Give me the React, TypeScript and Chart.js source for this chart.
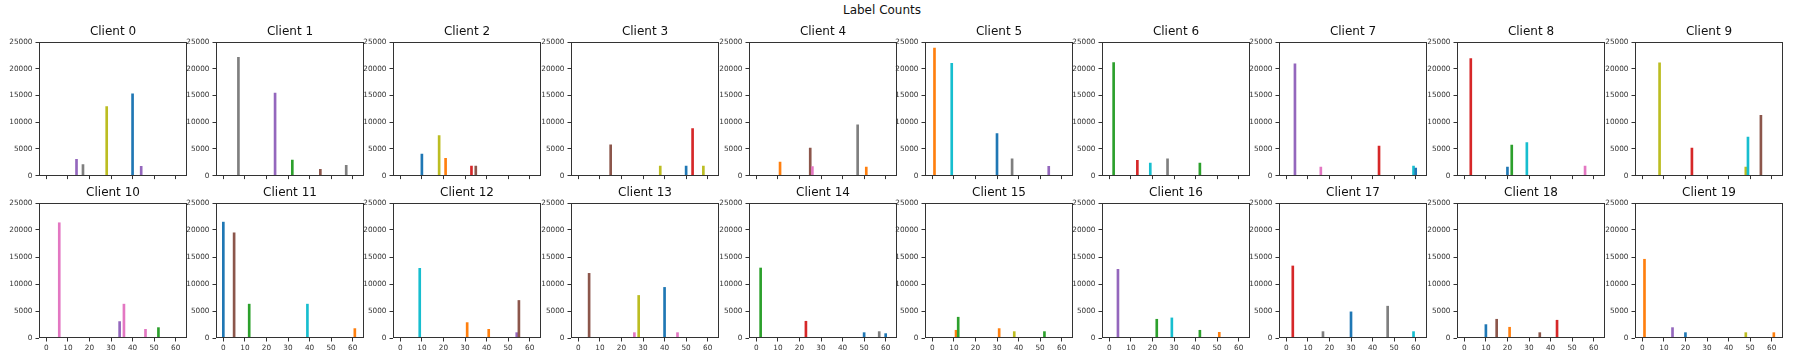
import React, { useEffect, useRef } from "react";
import { Chart, registerables } from "chart.js";

Chart.register(...registerables);

// ---------- data ----------
const clientTitles: string[] = [
  "Client 0", "Client 1", "Client 2", "Client 3", "Client 4",
  "Client 5", "Client 6", "Client 7", "Client 8", "Client 9",
  "Client 10", "Client 11", "Client 12", "Client 13", "Client 14",
  "Client 15", "Client 16", "Client 17", "Client 18", "Client 19",
];

// label ids present for each client
const clientLabelIds: number[][] = [
  [14, 17, 28, 40, 44],
  [7, 24, 32, 45, 57],
  [10, 18, 21, 33, 35],
  [15, 38, 50, 53, 58],
  [11, 25, 26, 47, 51],
  [1, 9, 30, 37, 54],
  [2, 13, 19, 27, 42],
  [4, 16, 43, 59, 60],
  [3, 20, 22, 29, 56],
  [8, 23, 48, 49, 55],
  [6, 34, 36, 46, 52],
  [0, 5, 12, 39, 61],
  [9, 31, 41, 54, 55],
  [5, 26, 28, 40, 46],
  [2, 23, 50, 57, 60],
  [11, 12, 31, 38, 52],
  [4, 22, 29, 42, 51],
  [3, 17, 30, 47, 59],
  [10, 15, 21, 35, 43],
  [1, 14, 20, 48, 61],
];

// counts for those labels
const clientLabelCounts: number[][] = [
  [3040, 2050, 12900, 15320, 1740],
  [22150, 15450, 2920, 1180, 1920],
  [4030, 7500, 3230, 1800, 1800],
  [5770, 1800, 1800, 8810, 1800],
  [2540, 5150, 1670, 9490, 1610],
  [23880, 21030, 7880, 3160, 1740],
  [21150, 2850, 2360, 3160, 2360],
  [20900, 1610, 5520, 1800, 1430],
  [21900, 1610, 5710, 6200, 1800],
  [21090, 5150, 1610, 7200, 11290],
  [21340, 3040, 6270, 1610, 1920],
  [21460, 19480, 6270, 6270, 1740],
  [12900, 2850, 1610, 990, 6950],
  [11970, 990, 7880, 9370, 990],
  [12960, 3100, 990, 1180, 810],
  [1430, 3850, 1740, 1180, 1180],
  [12720, 3470, 3720, 1430, 1050],
  [13340, 1180, 4840, 5890, 1180],
  [2480, 3470, 1990, 990, 3290],
  [14580, 1920, 990, 990, 990],
];

const tab10: string[] = [
  "#1f77b4", "#ff7f0e", "#2ca02c", "#d62728", "#9467bd",
  "#8c564b", "#e377c2", "#7f7f7f", "#bcbd22", "#17becf",
];

const suptitle = "Label Counts";
const xMin = -3.4;
const xMax = 65.25;
const xStep = 10;
const yMin = 0;
const yMax = 25000;
const yStep = 5000;

// ---------- layout ----------
const FONT = "'DejaVu Sans', 'Noto Sans', sans-serif";
const panelLefts = [39, 216, 393, 571, 749, 925, 1102, 1279, 1457, 1635];
const rowTops = [42, 203];
const PLOT_W = 148;
const PLOT_H = 135;
const Y_W = 40;
const TITLE_H = 22;
const RIGHT_PAD = 4;

const framePlugin = {
  id: "frame",
  afterDraw(chart: any) {
    const { ctx, chartArea } = chart;
    const l = Math.round(chartArea.left) + 0.5;
    const t = Math.round(chartArea.top) + 0.5;
    const r = Math.round(chartArea.right) - 0.5;
    const b = Math.round(chartArea.bottom) - 0.5;
    ctx.save();
    ctx.strokeStyle = "#333";
    ctx.lineWidth = 1;
    ctx.strokeRect(l, t, r - l, b - t);
    ctx.restore();
  },
};

const plainTick = (v: any) => String(v);

export default function App() {
  const refs = useRef<(HTMLCanvasElement | null)[]>([]);

  useEffect(() => {
    const charts: Chart[] = [];
    refs.current.forEach((cv, i) => {
      if (!cv) return;
      const row = Math.floor(i / 10);
      const ids = clientLabelIds[i];
      const counts = clientLabelCounts[i];
      const cfg: any = {
        type: "bar",
        data: {
          datasets: [
            {
              data: ids.map((id, k) => ({ x: id, y: counts[k] })),
              backgroundColor: ids.map((id) => tab10[id % 10]),
              borderWidth: 0,
              barThickness: 2,
            },
          ],
        },
        options: {
          animation: false,
          responsive: false,
          devicePixelRatio: 1,
          events: [],
          layout: { padding: { left: 0, right: RIGHT_PAD, top: 0, bottom: 0 } },
          plugins: {
            legend: { display: false },
            tooltip: { enabled: false },
            title: {
              display: true,
              text: clientTitles[i],
              fullSize: false,
              color: "#111",
              font: { family: FONT, size: 12, weight: "normal", lineHeight: 1.2 },
              padding: { top: 4.2, bottom: 3.4 },
            },
          },
          scales: {
            x: {
              type: "linear",
              min: xMin,
              max: xMax,
              offset: false,
              grid: {
                offset: false,
                drawOnChartArea: false,
                drawTicks: true,
                tickLength: 3.5,
                color: "#333",
              },
              border: { display: false },
              ticks: {
                display: row === 1,
                stepSize: xStep,
                includeBounds: false,
                autoSkip: false,
                maxRotation: 0,
                padding: 2,
                color: "#333",
                font: { family: FONT, size: 7.3 },
                callback: plainTick,
              },
              afterFit: (s: any) => {
                s.height = row === 1 ? 18 : 6;
              },
            },
            y: {
              min: yMin,
              max: yMax,
              grid: {
                drawOnChartArea: false,
                drawTicks: true,
                tickLength: 3.5,
                color: "#333",
              },
              border: { display: false },
              ticks: {
                stepSize: yStep,
                includeBounds: false,
                padding: 3,
                color: "#333",
                font: { family: FONT, size: 7.3 },
                callback: plainTick,
              },
              afterFit: (s: any) => {
                s.width = Y_W;
              },
            },
          },
        },
        plugins: [framePlugin],
      };
      charts.push(new Chart(cv, cfg));
    });
    return () => charts.forEach((c) => c.destroy());
  }, []);

  return (
    <div
      style={{
        position: "absolute",
        left: 0,
        top: 0,
        width: 1794,
        height: 363,
        background: "#fff",
        overflow: "hidden",
      }}
    >
      <div
        style={{
          position: "absolute",
          left: 0,
          width: 1764,
          top: 3,
          textAlign: "center",
          fontFamily: FONT,
          fontSize: 12,
          lineHeight: "14px",
          color: "#111",
        }}
      >
        {suptitle}
      </div>
      {clientTitles.map((_, i) => {
        const row = Math.floor(i / 10);
        const col = i % 10;
        const w = Y_W + PLOT_W + RIGHT_PAD;
        const h = TITLE_H + PLOT_H + (row === 1 ? 18 : 6);
        return (
          <canvas
            key={i}
            ref={(el) => {
              refs.current[i] = el;
            }}
            width={w}
            height={h}
            style={{
              position: "absolute",
              left: panelLefts[col] - Y_W,
              top: rowTops[row] - TITLE_H,
              width: w,
              height: h,
            }}
          />
        );
      })}
    </div>
  );
}
